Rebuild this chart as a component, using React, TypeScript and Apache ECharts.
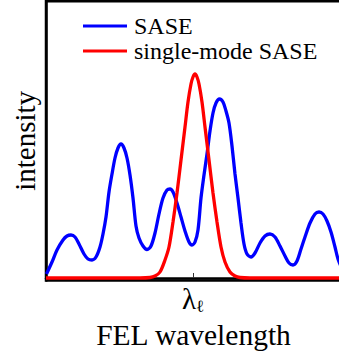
import React, { useEffect, useRef } from "react";
import * as echarts from "echarts";

// x: wavelength (arbitrary units), y: intensity (arbitrary units)
const saseX = [0.5, 6, 11, 17, 21, 25, 29, 33, 38, 42, 46, 50, 54, 57, 60, 63, 66, 69, 72, 75, 78, 81, 84, 87, 90, 93, 97, 101, 105, 109, 113, 117, 121, 124, 127, 131, 135, 139, 143, 146, 149, 152, 155, 158, 161, 164, 167, 170, 173.5, 177, 180, 183, 186, 189, 192, 195, 198, 201, 205, 209, 214, 219, 224, 229, 234, 239, 243, 247, 251, 255, 259, 264, 269, 273, 277, 281, 285, 289, 292, 296, 301];
const saseY = [4, 16, 28, 38, 42, 43, 41, 34, 24, 19, 18, 21, 31, 44, 61, 86, 104, 120, 130, 134, 130, 120, 103, 80, 52, 40, 32, 28.5, 32, 45, 64, 80, 88, 89, 86, 75, 61, 47, 36, 33, 36, 48, 80, 103, 124, 147, 165, 175, 179, 176, 167, 155, 132, 104, 80, 55, 34, 24, 21, 25, 35, 42, 44, 41, 32, 22, 15, 13, 17, 29, 41, 55, 64, 66, 64, 57, 46, 31, 19, 10, 4];

const smX = [0, 94, 104, 109, 114, 119, 123, 127, 131, 135, 139, 142, 145, 147, 149, 151, 153, 156, 159, 163, 167, 171, 175, 179, 184, 189, 194, 204, 304];
const smY = [0, 0, 0.5, 2, 6, 18, 31, 56, 85, 118, 151, 176, 194, 201, 204, 201, 194, 176, 151, 118, 85, 56, 31, 16, 6, 2, 0.5, 0, 0];

const tickValues = [147];
const seriesNames = ["SASE", "single-mode SASE"];
const xName = "FEL wavelength";
const yName = "intensity";

const SERIF = "'Liberation Serif', 'DejaVu Serif', serif";

export default function App() {
  const ref = useRef<HTMLDivElement>(null);
  useEffect(() => {
    if (!ref.current) return;
    const chart = echarts.init(ref.current, undefined, { renderer: "svg" });
    chart.setOption({
      animation: false,
      backgroundColor: "#ffffff",
      textStyle: { fontFamily: SERIF },
      legend: {
        orient: "vertical",
        left: 83,
        top: 14,
        padding: 0,
        itemWidth: 44,
        itemHeight: 3,
        itemGap: 1,
        icon: "rect",
        textStyle: { fontFamily: SERIF, fontSize: 24, color: "#000", padding: [0, 0, 0, 2] },
        data: seriesNames,
      },
      grid: {
        left: 46,
        top: 1.2,
        right: 19,
        bottom: 77.5,
        show: true,
        borderColor: "#000",
        borderWidth: 2.5,
        backgroundColor: "transparent",
      },
      xAxis: {
        type: "value",
        min: 0,
        max: 295,
        name: xName,
        nameLocation: "middle",
        nameGap: 39,
        nameTextStyle: { fontFamily: SERIF, fontSize: 29.5, color: "#000" },
        axisLine: { show: true, lineStyle: { color: "#000", width: 2.5 } },
        splitLine: { show: false },
        axisTick: { show: true, inside: true, length: 5, customValues: tickValues, lineStyle: { color: "#333", width: 1 } },
        axisLabel: {
          show: true,
          customValues: tickValues,
          margin: 2,
          fontFamily: SERIF,
          fontSize: 24,
          color: "#000",
          formatter: () => "{a|λ}{b|ℓ}",
          rich: {
            a: { fontFamily: SERIF, fontSize: 29, color: "#000" },
            b: { fontFamily: SERIF, fontSize: 17, color: "#000", padding: [15, 0, 0, 0] },
          },
        },
      },
      yAxis: {
        type: "value",
        min: -2.5,
        max: 276.8,
        name: yName,
        nameLocation: "middle",
        nameRotate: 90,
        nameGap: 7,
        nameTextStyle: { fontFamily: SERIF, fontSize: 29, color: "#000" },
        axisLine: { show: true, lineStyle: { color: "#000", width: 2.5 } },
        axisTick: { show: false },
        axisLabel: { show: false },
        splitLine: { show: false },
      },
      series: [
        {
          name: seriesNames[0],
          type: "line",
          data: saseX.map((x, i) => [x, saseY[i]]),
          smooth: 0.3,
          symbol: "none",
          lineStyle: { color: "#0000ff", width: 3.3 },
          itemStyle: { color: "#0000ff" },
          z: 2,
        },
        {
          name: seriesNames[1],
          type: "line",
          data: smX.map((x, i) => [x, smY[i]]),
          smooth: 0.3,
          symbol: "none",
          lineStyle: { color: "#ff0000", width: 3.3 },
          itemStyle: { color: "#ff0000" },
          z: 3,
        },
      ],
    });
    return () => chart.dispose();
  }, []);
  return (
    <div style={{ position: "fixed", left: 0, top: 0, width: 339, height: 358, overflow: "hidden", background: "#fff" }}>
      <div ref={ref} style={{ width: 360, height: 358 }} />
    </div>
  );
}
